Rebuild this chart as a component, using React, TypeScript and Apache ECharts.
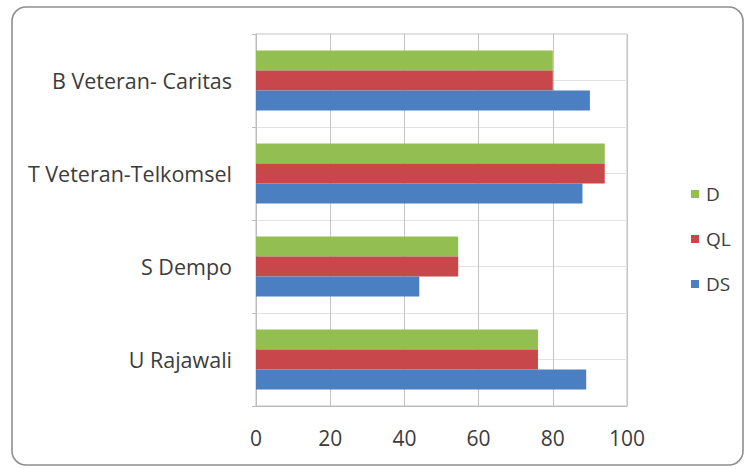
import React, { useEffect, useRef } from "react";
import * as echarts from "echarts";

// Schools, listed bottom to top as they appear on the category axis
const categories = ["U Rajawali", "S Dempo", "T Veteran-Telkomsel", "B Veteran- Caritas"];

// Scores per school for each indicator
const dValues = [76, 54.5, 94, 80];
const qlValues = [76, 54.5, 94, 80];
const dsValues = [89, 44, 88, 90];

// Series in stacking order within each group (first one sits on top)
const seriesNames = ["D", "QL", "DS"];
const legendOrder = ["D", "QL", "DS"];
const xTicks = { min: 0, max: 100, interval: 20 };

const FONT = "'Open Sans', 'Noto Sans', sans-serif";
const TEXT = "#3c3c3c";

export default function App() {
  const ref = useRef<HTMLDivElement>(null);

  useEffect(() => {
    document.body.style.margin = "0";
    if (!ref.current) return;
    const chart = echarts.init(ref.current, undefined, { renderer: "svg" });

    const colors = ["#93BE52", "#C8474A", "#4A7FC1"];
    const values = [dValues, qlValues, dsValues];

    chart.setOption({
      animation: false,
      backgroundColor: "#ffffff",
      textStyle: { fontFamily: FONT },
      graphic: [
        {
          type: "rect",
          shape: { x: 12, y: 7, width: 731, height: 458, r: 14 },
          style: { fill: "none", stroke: "#8e8e8e", lineWidth: 1.6 },
          silent: true,
          z: 0,
        },
      ],
      legend: {
        data: legendOrder,
        orient: "vertical",
        left: 686,
        top: 178,
        itemWidth: 8,
        itemHeight: 8,
        itemGap: 23,
        icon: "rect",
        textStyle: { fontSize: 19, color: TEXT, fontFamily: FONT, lineHeight: 22, padding: [0, 0, 0, 2] },
      },
      grid: {
        left: 256,
        right: 119,
        top: 34,
        bottom: 63,
        show: true,
        borderColor: "#bdbdbd",
        borderWidth: 1,
      },
      xAxis: {
        type: "value",
        min: xTicks.min,
        max: xTicks.max,
        interval: xTicks.interval,
        axisLine: { show: true, lineStyle: { color: "#bdbdbd" } },
        axisTick: { show: false },
        axisLabel: { fontSize: 21, color: TEXT, margin: 21, fontFamily: FONT },
        splitLine: { show: true, lineStyle: { color: "#c4c4c4", width: 1 } },
      },
      yAxis: [
        {
          type: "category",
          data: categories,
          axisLine: { show: true, lineStyle: { color: "#bdbdbd" } },
          axisTick: { show: true, length: 4, lineStyle: { color: "#bdbdbd" } },
          axisLabel: { fontSize: 21.5, color: TEXT, margin: 24, fontFamily: FONT },
          splitLine: { show: false },
        },
        {
          // half-category guide lines across the plot
          type: "value",
          min: 0,
          max: 8,
          interval: 1,
          position: "left",
          axisLine: { show: false },
          axisTick: { show: false },
          axisLabel: { show: false },
          splitLine: { show: true, lineStyle: { color: "#e2e2e2", width: 1 } },
        },
      ],
      series: seriesNames.map((name, i) => ({
        name,
        type: "bar",
        yAxisIndex: 0,
        data: values[i],
        barWidth: 20,
        barGap: "0%",
        itemStyle: { color: colors[i] },
        z: 3,
      })),
    });

    return () => chart.dispose();
  }, []);

  return <div ref={ref} style={{ width: 746, height: 469 }} />;
}
